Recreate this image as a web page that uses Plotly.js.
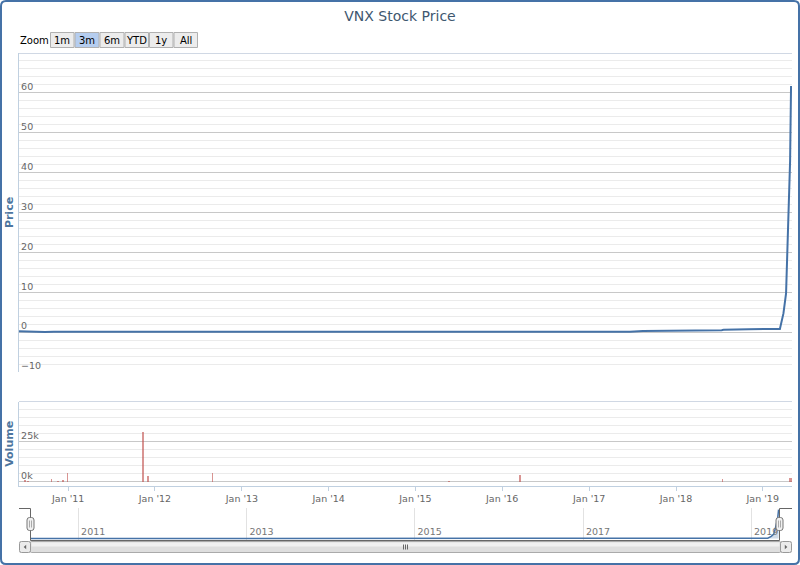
<!DOCTYPE html>
<html>
<head>
<meta charset="utf-8">
<script src="https://cdn.plot.ly/plotly-3.0.1.min.js"></script>
<style>
  html, body { margin: 0; padding: 0; background: #ffffff; }
  #chart { width: 800px; height: 565px; }
</style>
</head>
<body>
<div id="chart"></div>
<script>
// ---------------- DATA ----------------
const chartTitle = 'VNX Stock Price';
const priceDates = ['2010-06-08','2010-06-25','2010-07-20','2010-08-20','2010-09-25','2010-11-01','2010-12-15',
  '2011-03-01','2011-08-01','2012-01-01','2012-08-01','2013-04-01','2013-11-20','2013-12-20','2014-01-25',
  '2014-08-01','2015-06-01','2016-04-01','2017-01-01','2017-06-21','2017-08-15','2018-02-25','2018-03-05',
  '2018-07-12','2018-07-20','2018-10-25','2018-11-02','2019-03-14','2019-03-29','2019-04-09','2019-04-14',
  '2019-04-20','2019-04-26','2019-04-30'];
const priceValues = [0.25, 0.2, 0.1, 0.15, 0.05, 0.1, 0.12,
  0.1, 0.1, 0.1, 0.1, 0.1, 0.1, 0.2, 0.1,
  0.1, 0.12, 0.12, 0.12, 0.12, 0.3, 0.35, 0.5,
  0.5, 0.6, 0.6, 0.72, 0.8, 4.7, 9.7, 18,
  30.6, 43, 61.7];
const volumeDates = ['2010-07-02','2010-07-15','2010-09-16','2010-10-22','2010-11-18','2010-12-09','2010-12-29',
  '2011-11-13','2011-12-04','2012-08-30','2015-05-22','2016-03-17','2018-07-16','2019-04-24','2019-04-30'];
const volumeValues = [1200, 600, 300, 1900, 400, 1500, 5400, 31400, 3700, 5400, 500, 4400, 1900, 2300, 2500];
const priceTicks = [-10, 0, 10, 20, 30, 40, 50, 60];
const volumeTickVals = [0, 25000];
const volumeTickText = ['0k', '25k'];
const zoomButtons = ['1m', '3m', '6m', 'YTD', '1y', 'All'];
const selectedButton = '3m';
const dateRange = ['2010-06-08', '2019-05-04'];

// ---------------- LAYOUT HELPERS ----------------
const W = 800, H = 565;
const fx = x => x / W;
const fy = y => 1 - y / H;
const pt = (x, y) => fx(x) + ',' + fy(y);
function pathOf(points) {
  return points.map((p, i) => (i ? 'L' : 'M') + pt(p[0], p[1])).join(' ');
}
function rrect(x0, y0, x1, y1, r) {
  return 'M' + pt(x0 + r, y0) + ' L' + pt(x1 - r, y0) + ' Q' + pt(x1, y0) + ' ' + pt(x1, y0 + r) +
    ' L' + pt(x1, y1 - r) + ' Q' + pt(x1, y1) + ' ' + pt(x1 - r, y1) +
    ' L' + pt(x0 + r, y1) + ' Q' + pt(x0, y1) + ' ' + pt(x0, y1 - r) +
    ' L' + pt(x0, y0 + r) + ' Q' + pt(x0, y0) + ' ' + pt(x0 + r, y0) + ' Z';
}
const FONT = 'DejaVu Sans, Verdana, sans-serif';

// ---------------- TRACES ----------------
const traces = [
  { type: 'scatter', mode: 'lines', x: priceDates, y: priceValues, xaxis: 'x', yaxis: 'y',
    line: { color: '#4572A7', width: 2 }, hoverinfo: 'skip' },
  { type: 'bar', x: volumeDates, y: volumeValues, xaxis: 'x', yaxis: 'y2',
    width: 7 * 86400000, marker: { color: '#C0504D', line: { width: 0 } }, opacity: 0.6, hoverinfo: 'skip' },
  { type: 'scatter', mode: 'lines', x: priceDates, y: priceValues, xaxis: 'x2', yaxis: 'y3',
    line: { color: '#4572A7', width: 1.5 }, fill: 'tozeroy', fillcolor: 'rgba(69,114,167,0.25)', hoverinfo: 'skip' }
];

// ---------------- SHAPES ----------------
const shapes = [];
// outer rounded border
shapes.push({ type: 'path', xref: 'paper', yref: 'paper', layer: 'above',
  path: rrect(1, 1, 799, 564, 5), line: { color: '#4572A7', width: 2 } });
// pane top borders
shapes.push({ type: 'line', xref: 'paper', yref: 'paper', x0: fx(19), x1: fx(792), y0: fy(53.5), y1: fy(53.5),
  line: { color: '#D0D8E4', width: 1 }, layer: 'below' });
shapes.push({ type: 'line', xref: 'paper', yref: 'paper', x0: fx(19), x1: fx(792), y0: fy(401.5), y1: fy(401.5),
  line: { color: '#D0D8E4', width: 1 }, layer: 'below' });
// navigator outline
shapes.push({ type: 'path', xref: 'paper', yref: 'paper', layer: 'above',
  path: pathOf([[19, 508.5], [30.5, 508.5], [30.5, 540.5], [779.5, 540.5], [779.5, 508.5], [792, 508.5]]),
  line: { color: '#666666', width: 1 } });
// scrollbar track
shapes.push({ type: 'rect', xref: 'paper', yref: 'paper', layer: 'above',
  x0: fx(19), x1: fx(792), y0: fy(541), y1: fy(553), fillcolor: '#eeeeee', line: { width: 0 } });
// scrollbar thumb (two tones for gradient)
shapes.push({ type: 'path', xref: 'paper', yref: 'paper', layer: 'above',
  path: rrect(30.5, 541.5, 780.5, 552.5, 1), fillcolor: '#dedede', line: { color: '#aaaaaa', width: 1 } });
shapes.push({ type: 'rect', xref: 'paper', yref: 'paper', layer: 'above',
  x0: fx(31.5), x1: fx(779.5), y0: fy(542.5), y1: fy(546.5), fillcolor: '#f0f0f0', line: { width: 0 } });
// grip
[403, 405, 407].forEach(x => shapes.push({ type: 'line', xref: 'paper', yref: 'paper', layer: 'above',
  x0: fx(x + 0.5), x1: fx(x + 0.5), y0: fy(544.5), y1: fy(549.5), line: { color: '#666666', width: 1 } }));
// scrollbar buttons
[[19.5, 30.5, 'L'], [780.5, 791.5, 'R']].forEach(b => {
  shapes.push({ type: 'path', xref: 'paper', yref: 'paper', layer: 'above',
    path: rrect(b[0], 541.5, b[1], 552.5, 2), fillcolor: '#ebebeb', line: { color: '#999999', width: 1 } });
  const cx = (b[0] + b[1]) / 2;
  const tri = b[2] === 'L' ? [[cx + 1.2, 544.8], [cx - 1.3, 547], [cx + 1.2, 549.2]]
                           : [[cx - 1.2, 544.8], [cx + 1.3, 547], [cx - 1.2, 549.2]];
  shapes.push({ type: 'path', xref: 'paper', yref: 'paper', layer: 'above',
    path: pathOf(tri) + ' Z', fillcolor: '#666666', line: { width: 0 } });
});
// navigator handles
[30.5, 779.5].forEach(cx => {
  shapes.push({ type: 'path', xref: 'paper', yref: 'paper', layer: 'above',
    path: rrect(cx - 3.5, 517.5, cx + 3.5, 530.5, 2.5), fillcolor: '#f0f0f0', line: { color: '#777777', width: 1 } });
  [cx - 1, cx + 1].forEach(x => shapes.push({ type: 'line', xref: 'paper', yref: 'paper', layer: 'above',
    x0: fx(x), x1: fx(x), y0: fy(520.5), y1: fy(527.5), line: { color: '#aaaaaa', width: 1 } }));
});
// range selector buttons
const btnEdges = [50, 74.5, 99.5, 124.5, 149, 173.5, 198];
const annotations = [];
annotations.push({ xref: 'paper', yref: 'paper', x: fx(18), y: fy(41), xanchor: 'left', yanchor: 'middle',
  text: 'Zoom', showarrow: false, font: { family: FONT, size: 10, color: '#000000' } });
zoomButtons.forEach((label, i) => {
  const x0 = btnEdges[i], x1 = btnEdges[i + 1];
  shapes.push({ type: 'rect', xref: 'paper', yref: 'paper', layer: 'above',
    x0: fx(x0 + 0.5), x1: fx(x1 - 0.5), y0: fy(32.5), y1: fy(47.5),
    fillcolor: label === selectedButton ? '#b5cdef' : '#ececec', line: { color: '#b0b0b0', width: 1 } });
  annotations.push({ xref: 'paper', yref: 'paper', x: fx((x0 + x1) / 2), y: fy(40.5), xanchor: 'center', yanchor: 'middle',
    text: label, showarrow: false, font: { family: FONT, size: 10, color: '#000000' } });
});

// ---------------- LAYOUT ----------------
const tickFont = { family: FONT, size: 9.5, color: '#666666' };
const layout = {
  width: W, height: H,
  margin: { l: 0, r: 0, t: 0, b: 0, pad: 0 },
  paper_bgcolor: '#ffffff', plot_bgcolor: 'rgba(0,0,0,0)',
  showlegend: false, hovermode: false, dragmode: false, bargap: 0,
  title: { text: chartTitle, x: 0.5, xanchor: 'center', y: fy(16), yanchor: 'middle', yref: 'container',
    font: { family: FONT, size: 14, color: '#3E576F' } },
  xaxis: {
    domain: [fx(19), fx(792)], anchor: 'y2', type: 'date', range: dateRange,
    tick0: '2011-01-01', dtick: 'M12', tickformat: "%b '%y",
    showgrid: false, zeroline: false, showline: true, linecolor: '#C0D0E0', linewidth: 1,
    ticks: 'outside', ticklen: 4, tickcolor: '#C0D0E0', tickfont: tickFont, fixedrange: true
  },
  yaxis: {
    domain: [fy(372), fy(53)], anchor: 'x', range: [-10, 70],
    tickmode: 'array', tickvals: priceTicks,
    ticklabelposition: 'inside', ticklabelshift: -6, ticklabelstandoff: 1, ticks: '',
    showgrid: true, gridcolor: '#C8C8C8', gridwidth: 1, zeroline: false,
    minor: { tickmode: 'linear', tick0: 0, dtick: 2, showgrid: true, gridcolor: '#EBEBEB', gridwidth: 1 },
    showline: true, linecolor: '#C0D0E0', linewidth: 1,
    tickfont: tickFont, fixedrange: true,
    title: { text: 'Price', standoff: 5, font: { family: FONT, size: 11, color: '#4d759e', weight: 'bold' } }
  },
  yaxis2: {
    domain: [fy(486), fy(401.7)], anchor: 'x', range: [-2500, 50000],
    tickmode: 'array', tickvals: volumeTickVals, ticktext: volumeTickText,
    ticklabelposition: 'inside', ticklabelshift: -6, ticklabelstandoff: 1, ticks: '',
    showgrid: true, gridcolor: '#C8C8C8', gridwidth: 1, zeroline: false,
    minor: { tickmode: 'linear', tick0: 0, dtick: 5000, showgrid: true, gridcolor: '#EBEBEB', gridwidth: 1 },
    showline: true, linecolor: '#C0D0E0', linewidth: 1,
    tickfont: tickFont, fixedrange: true,
    title: { text: 'Volume', standoff: 5, font: { family: FONT, size: 11, color: '#4d759e', weight: 'bold' } }
  },
  xaxis2: {
    domain: [fx(30.5), fx(779.5)], anchor: 'y3', type: 'date', range: dateRange,
    tick0: '2011-01-01', dtick: 'M24', tickformat: '%Y',
    ticklabelposition: 'inside', ticklabelshift: 15, ticks: '',
    showgrid: true, gridcolor: '#E2E2E2', gridwidth: 1, zeroline: false, showline: false,
    tickfont: { family: FONT, size: 9.5, color: '#777777' }, fixedrange: true
  },
  yaxis3: {
    domain: [fy(540), fy(508)], anchor: 'x2', range: [-3, 65],
    visible: false, showgrid: false, zeroline: false, fixedrange: true
  },
  shapes: shapes,
  annotations: annotations
};

Plotly.newPlot('chart', traces, layout, { displayModeBar: false, staticPlot: true });
</script>
</body>
</html>
